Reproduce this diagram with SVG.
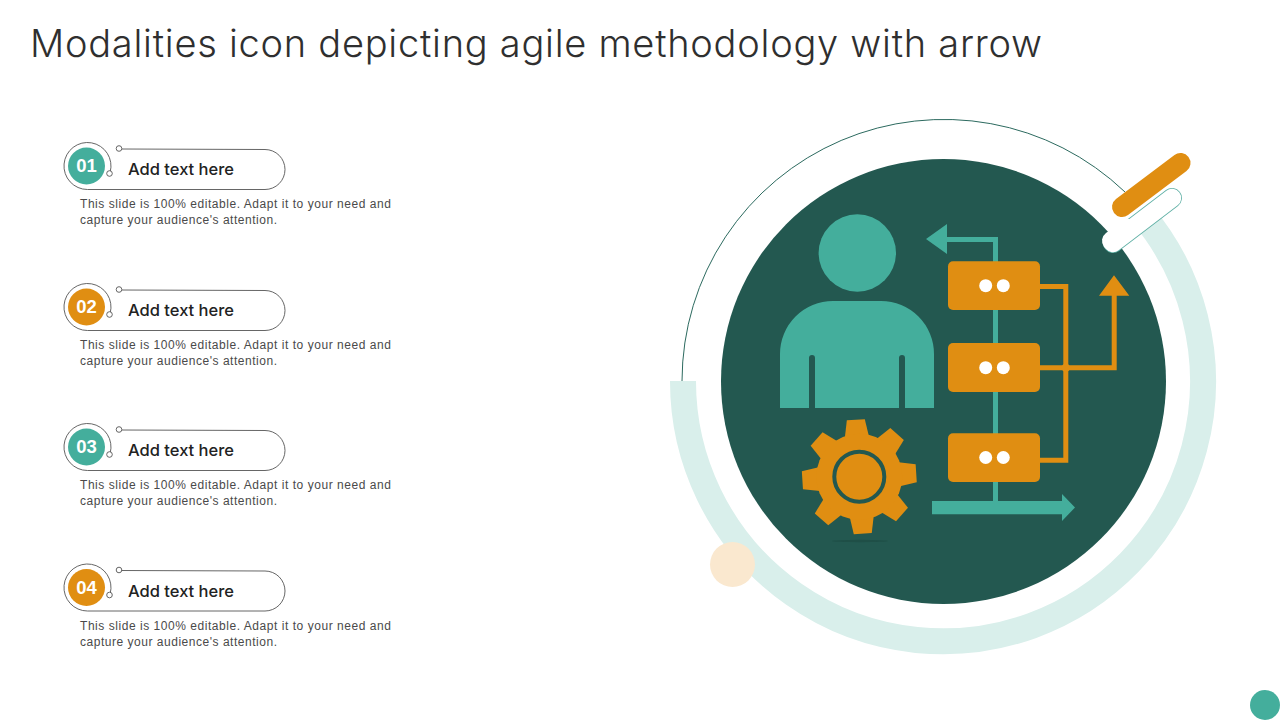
<svg xmlns="http://www.w3.org/2000/svg" xmlns:xlink="http://www.w3.org/1999/xlink" width="1280" height="720" viewBox="0 0 1280 720">
<style>
.title{font:300 38px Inter,"Liberation Sans",sans-serif;fill:#2f2f2f;font-variant-ligatures:none}
.head{font:500 16.500px Inter,"Liberation Sans",sans-serif;fill:#222}
.body{font:12px "Liberation Sans",Arial,sans-serif;fill:#4a4a4a}
.num{font:700 18.500px "Liberation Sans",Arial,sans-serif;fill:#fff;text-anchor:middle}
.thin{fill:none;stroke:#555;stroke-width:.9}
.knob{fill:#fff;stroke:#555;stroke-width:.9}
.t{fill:#44ae9c}.o{fill:#e08e12}.d{fill:#235850}.w{fill:#fff}
</style>
<defs>
<g id="callout">
<path class="thin" d="M110.200 172A23.500 23.500 0 1 0 87.500 189.500L265 189.500A20 20 0 0 0 265 149.500L121 149"/>
<circle class="knob" cx="119" cy="148.500" r="2.800"/>
<circle class="knob" cx="109.500" cy="173.500" r="2.800"/>
<text class="head" x="128" y="175" textLength="106" lengthAdjust="spacing">Add text here</text>
<text class="body" x="80" y="208" textLength="311" lengthAdjust="spacing">This slide is 100% editable. Adapt it to your need and</text>
<text class="body" x="80" y="224" textLength="197" lengthAdjust="spacing">capture your audience's attention.</text>
</g>
<polygon id="tooth" class="o" points="847,438 850,421 868,421 871,438"/>
</defs>
<rect width="1280" height="720" fill="#fff"/>
<text class="title" x="30" y="57" textLength="1012" lengthAdjust="spacing">Modalities icon depicting agile methodology with arrow</text>

<g id="item-1"><use xlink:href="#callout"/><circle class="t" cx="86.500" cy="166" r="18.500"/><text class="num" x="86.500" y="172">01</text></g>
<g id="item-2" transform="translate(0 141)"><use xlink:href="#callout"/><circle class="o" cx="86.500" cy="166" r="18.500"/><text class="num" x="86.500" y="172">02</text></g>
<g id="item-3" transform="translate(0 281)"><use xlink:href="#callout"/><circle class="t" cx="86.500" cy="166" r="18.500"/><text class="num" x="86.500" y="172">03</text></g>
<g id="item-4" transform="translate(0 421.500)"><use xlink:href="#callout"/><circle class="o" cx="86.500" cy="166" r="18.500"/><text class="num" x="86.500" y="172">04</text></g>

<g id="rings">
<path d="M683 381A260 260 0 1 0 1142 214" fill="none" stroke="#d9efeb" stroke-width="26"/>
<path d="M682 381A262 262 0 0 1 1125 192" fill="none" stroke="#2c6a5f" stroke-width="1"/>
<circle class="d" cx="943.500" cy="381.500" r="222.500"/>
<circle cx="732.500" cy="564.500" r="22.500" fill="#fae8cf"/>
</g>
<g id="pills">
<path d="M1113 243L1172 198" stroke="#5fb0a5" stroke-width="20" stroke-linecap="round" fill="none"/>
<path d="M1113 243L1172 198" stroke="#fff" stroke-width="18.500" stroke-linecap="round" fill="none"/>
<path d="M1112 241L1128 229" stroke="#fff" stroke-width="20" stroke-linecap="round" fill="none"/>
<path d="M1122 207L1180.500 163" stroke="#e08e12" stroke-width="20" stroke-linecap="round" fill="none"/>
</g>
<g id="person">
<circle class="t" cx="857.300" cy="253" r="38.700"/>
<path class="t" d="M780 408V354A53 53 0 0 1 833 301H881A53 53 0 0 1 934 354V408H905V358A3 3 0 0 0 899 358V408H815V358A3 3 0 0 0 809 358V408Z"/>
</g>
<g id="gear">
<ellipse cx="860" cy="541" rx="28" ry="1.200" fill="#1f4f47"/>
<g transform="rotate(-3.500 859.300 476.700)">
<use xlink:href="#tooth" x="0.300" y="-1.300"/>
<use xlink:href="#tooth" x="0.300" y="-1.300" transform="rotate(45 859.300 476.700)"/>
<use xlink:href="#tooth" x="0.300" y="-1.300" transform="rotate(90 859.300 476.700)"/>
<use xlink:href="#tooth" x="0.300" y="-1.300" transform="rotate(135 859.300 476.700)"/>
<use xlink:href="#tooth" x="0.300" y="-1.300" transform="rotate(180 859.300 476.700)"/>
<use xlink:href="#tooth" x="0.300" y="-1.300" transform="rotate(225 859.300 476.700)"/>
<use xlink:href="#tooth" x="0.300" y="-1.300" transform="rotate(270 859.300 476.700)"/>
<use xlink:href="#tooth" x="0.300" y="-1.300" transform="rotate(315 859.300 476.700)"/>
</g>
<circle class="o" cx="859.300" cy="476.700" r="43"/>
<circle cx="859.300" cy="476.700" r="25" fill="none" stroke="#235850" stroke-width="4"/>
</g>
<g id="connectors">
<path class="t" d="M926 239L947 224V237H998V501H1062V494L1075 507.500L1062 521V514.300H932V501H993V242H947V254Z"/>
<path class="o" d="M1040 284H1068.300V365.300H1111.700V295.700H1099L1114 275.300L1129.300 295.700H1116.700V370.300H1068.300V462.700H1040V457.700H1063.300V370.300H1040V365.300H1063.300V289H1040Z"/>
<circle class="o" cx="1065.800" cy="367.800" r="4"/>
</g>
<g id="box-1"><rect class="o" x="948" y="261.300" width="92" height="48.700" rx="5"/><circle class="w" cx="985.700" cy="285.700" r="6.500"/><circle class="w" cx="1003.300" cy="285.700" r="6.500"/></g>
<g id="box-2"><rect class="o" x="948" y="343" width="92" height="49" rx="5"/><circle class="w" cx="985.700" cy="367.700" r="6.500"/><circle class="w" cx="1003.300" cy="367.700" r="6.500"/></g>
<g id="box-3"><rect class="o" x="948" y="433.300" width="92" height="48.700" rx="5"/><circle class="w" cx="985.700" cy="457.500" r="6.500"/><circle class="w" cx="1003.300" cy="457.500" r="6.500"/></g>
<circle id="corner-dot" class="t" cx="1265" cy="705" r="15"/>
</svg>
